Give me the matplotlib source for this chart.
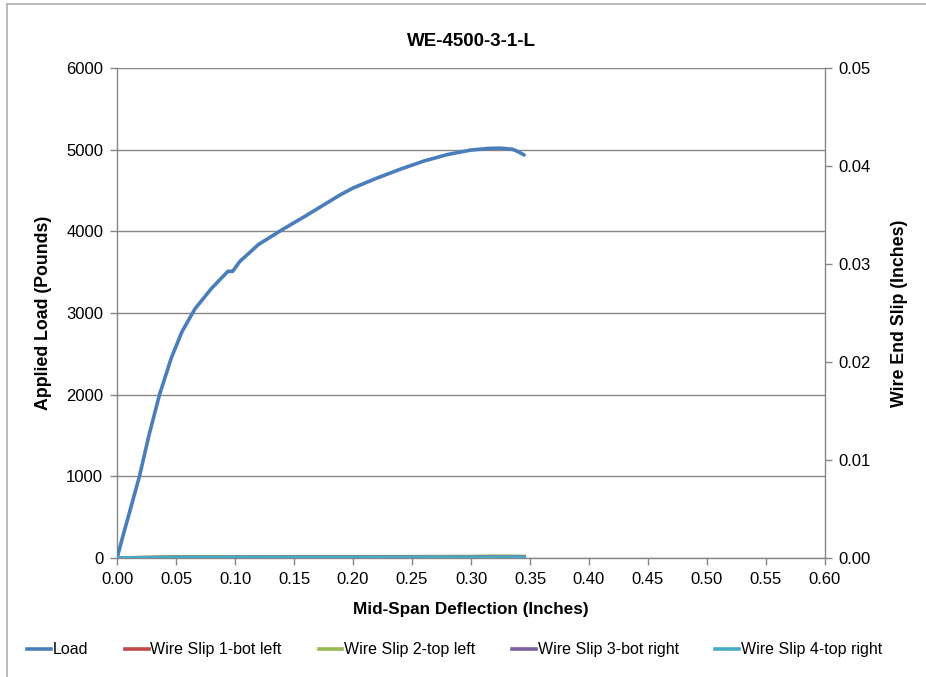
import matplotlib.pyplot as plt
from matplotlib.lines import Line2D

# ---- data ----
deflection = [0.000, 0.005, 0.010, 0.019, 0.027, 0.036, 0.046, 0.055, 0.066,
              0.080, 0.094, 0.098, 0.104, 0.120, 0.140, 0.160, 0.189, 0.200,
              0.220, 0.240, 0.260, 0.280, 0.300, 0.315, 0.325, 0.335, 0.340,
              0.345]
load = [0, 270, 530, 1000, 1500, 2000, 2450, 2770, 3050,
        3300, 3510, 3510, 3630, 3840, 4020, 4190, 4445, 4530,
        4650, 4760, 4860, 4940, 4995, 5015, 5018, 5005, 4975,
        4935]

slip_defl = [0.000, 0.050, 0.100, 0.150, 0.200, 0.250, 0.300, 0.320, 0.345]
slip_1 = [0.0, 0.00008, 0.00009, 0.00010, 0.00010, 0.00010, 0.00011, 0.00011, 0.00011]
slip_2 = [0.0, 0.00010, 0.00012, 0.00013, 0.00013, 0.00014, 0.00015, 0.00019, 0.00016]
slip_3 = [0.0, 0.00006, 0.00007, 0.00008, 0.00008, 0.00008, 0.00009, 0.00009, 0.00009]
slip_4 = [0.0, 0.00004, 0.00005, 0.00005, 0.00005, 0.00006, 0.00006, 0.00006, 0.00006]

x_ticks = [0.00, 0.05, 0.10, 0.15, 0.20, 0.25, 0.30, 0.35, 0.40, 0.45, 0.50, 0.55, 0.60]
load_ticks = [0, 1000, 2000, 3000, 4000, 5000, 6000]
slip_ticks = [0.00, 0.01, 0.02, 0.03, 0.04, 0.05]

series_names = ["Load", "Wire Slip 1-bot left", "Wire Slip 2-top left",
                "Wire Slip 3-bot right", "Wire Slip 4-top right"]
colors = ["#4a7ebb", "#be4b48", "#98b954", "#7d60a0", "#46aac5"]

plt.rcParams["font.family"] = ["Liberation Sans", "DejaVu Sans"]
grey = "#868686"

fig = plt.figure(figsize=(9.26, 6.77), dpi=100)
ax = fig.add_axes([0.1264, 0.1758, 0.7645, 0.7238])
ax2 = ax.twinx()

ax.plot(deflection, load, color=colors[0], lw=2.6, solid_capstyle="round", zorder=3)
for vals, c in zip([slip_1, slip_2, slip_3, slip_4], colors[1:]):
    ax2.plot(slip_defl, vals, color=c, lw=2.6, zorder=3)

ax.set_xlim(0, 0.6)
ax.set_ylim(0, 6000)
ax2.set_ylim(0, 0.05)
ax.set_xticks(x_ticks)
ax.set_xticklabels([f"{v:.2f}" for v in x_ticks])
ax.set_yticks(load_ticks)
ax2.set_yticks(slip_ticks)
ax2.set_yticklabels([f"{v:.2f}" for v in slip_ticks])

ax.grid(axis="y", color=grey, lw=1.0)
ax.set_axisbelow(True)
for a in (ax, ax2):
    for s in a.spines.values():
        s.set_visible(False)
    a.tick_params(length=5, width=1, color=grey, labelsize=12, pad=5)
ax.spines["left"].set_visible(True)
ax.spines["bottom"].set_visible(True)
ax2.spines["right"].set_visible(True)
for s in (ax.spines["left"], ax.spines["bottom"], ax2.spines["right"]):
    s.set_color(grey)
    s.set_linewidth(1)

ax.set_xlabel("Mid-Span Deflection (Inches)", fontsize=12.3, fontweight="bold", labelpad=11)
ax.set_ylabel("Applied Load (Pounds)", fontsize=12.8, fontweight="bold", labelpad=10)
ax2.set_ylabel("Wire End Slip (Inches)", fontsize=12.8, fontweight="bold", labelpad=14)
ax.set_title("WE-4500-3-1-L", fontsize=13.5, fontweight="bold", pad=16)

handles = [Line2D([], [], color=c, lw=2.6) for c in colors]
fig.legend(handles, series_names, loc="center", bbox_to_anchor=(0.491, 0.04),
           ncol=5, frameon=False, fontsize=11.5, handlelength=1.5,
           handletextpad=0.1, columnspacing=2.3)

# outer chart border (top and left edges visible)
fig.add_artist(Line2D([0.0075, 1.0], [0.994, 0.994], transform=fig.transFigure,
                      color="#b0b0b0", lw=1.2))
fig.add_artist(Line2D([0.0075, 0.0075], [0.0, 0.994], transform=fig.transFigure,
                      color="#b0b0b0", lw=1.2))

fig.savefig("out.png", dpi=100)
